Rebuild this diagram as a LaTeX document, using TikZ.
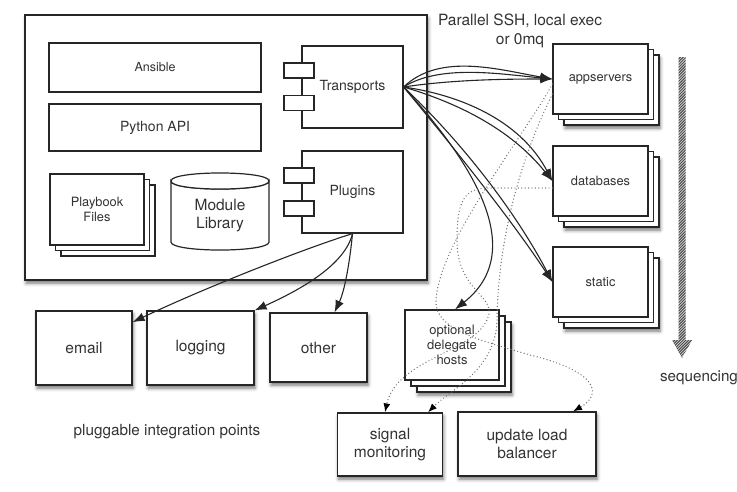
\documentclass[tikz,border=0pt]{standalone}
\usepackage{fontspec}
\setmainfont{TeX Gyre Heros}
\usetikzlibrary{arrows.meta, shadows.blur}
\begin{document}
\begin{tikzpicture}[x=1pt,y=-1pt,
  box/.style={draw=black!85, line width=1.2pt, fill=white, inner sep=0pt, align=center, text=black!80},
  shad/.style={blur shadow={shadow xshift=1pt, shadow yshift=-3pt, shadow blur radius=3.5pt, shadow opacity=55}},
  tabbox/.style={draw=black!85, line width=1.1pt, fill=white, minimum width=30pt, minimum height=15pt, inner sep=0pt},
  hostbox/.style={box, minimum width=95pt, minimum height=70pt, font=\fontsize{12.8}{15}\selectfont},
  botbox/.style={box, font=\fontsize{15.5}{18}\selectfont},
  conn/.style={draw=black!85, line width=1.1pt, -{Latex[length=12pt,width=9pt]}},
  dotted line/.style={draw=black!55, line width=1.4pt, line cap=round, dash pattern=on 0pt off 3.4pt, -{Latex[length=9pt,width=7pt,color=black]}},
  lab/.style={align=center, text=black!80, inner sep=0pt},
]
\useasboundingbox (0,0) rectangle (737,491);

% core box
\node[box, shad, minimum width=402pt, minimum height=265pt] (core) at (226,147.5) {};
\node[box, minimum width=212pt, minimum height=49pt, font=\fontsize{12.5}{15}\selectfont] (ansible) at (155,67.5) {Ansible};
\node[box, minimum width=212pt, minimum height=47pt, font=\fontsize{14}{17}\selectfont] (pyapi) at (155,127.5) {Python API};

% playbook stack
\node[box, minimum width=94pt, minimum height=71pt] (pb3) at (108,220.5) {};
\node[box, minimum width=94pt, minimum height=71pt] (pb2) at (102.5,215) {};
\node[box, minimum width=94pt, minimum height=71pt, font=\fontsize{12.8}{14.5}\selectfont] (pb) at (97,209.5) {Playbook\\Files};

% module library cylinder
\draw[draw=black!85, line width=1.2pt, fill=white]
  (171,181) -- (171,242) .. controls (171,252.7) and (269,252.7) .. (269,242) -- (269,181)
  .. controls (269,191.7) and (171,191.7) .. (171,181) -- cycle;
\draw[draw=black!85, line width=1.2pt, fill=white]
  (171,181) .. controls (171,170.3) and (269,170.3) .. (269,181)
  .. controls (269,191.7) and (171,191.7) .. (171,181) -- cycle;
\node[lab, font=\fontsize{15.5}{18}\selectfont] (modlib) at (220,216) {Module\\Library};

% transports and plugins
\node[box, minimum width=101pt, minimum height=82pt, font=\fontsize{14}{17}\selectfont] (trans) at (352.5,87) {Transports};
\node[tabbox] (ttab1) at (299,70.5) {};
\node[tabbox] (ttab2) at (299,103) {};
\node[box, minimum width=101pt, minimum height=82pt, font=\fontsize{14}{17}\selectfont] (plug) at (352.5,192) {\raisebox{-6pt}{Plugins}};
\node[tabbox] (ptab1) at (299,175.5) {};
\node[tabbox] (ptab2) at (299,208.5) {};

% label
\node[lab, font=\fontsize{15.5}{19}\selectfont] (par) at (520,31) {Parallel SSH, local exec\\or 0mq};

% host stacks
\node[hostbox, shad] (app3) at (611.5,90) {};
\node[hostbox] (app2) at (606,84.5) {};
\node[hostbox] (app) at (600.5,79) {appservers};
\node[hostbox, shad] (db3) at (611.5,192) {};
\node[hostbox] (db2) at (606,186.5) {};
\node[hostbox] (db) at (600.5,181) {databases};
\node[hostbox, shad] (st3) at (611.5,293) {};
\node[hostbox] (st2) at (606,287.5) {};
\node[hostbox] (st) at (600.5,282) {static};

% sequencing arrow
\begin{scope}
\clip (678.5,57) -- (685.5,57) -- (685.5,340) -- (692,340) -- (682,358) -- (672,340) -- (678.5,340) -- cycle;
\fill[black!15] (668,50) rectangle (696,365);
\foreach \k in {0,...,115} \draw[black!70, line width=1pt] (668,{50+2.8*\k}) -- (696,{22+2.8*\k});
\end{scope}
\node[lab, font=\fontsize{15.2}{18}\selectfont] (seq) at (699,378) {sequencing};

% bottom boxes
\node[botbox, shad, minimum width=96pt, minimum height=74pt] (email) at (84,348) {email};
\node[botbox, shad, minimum width=107pt, minimum height=74pt] (logging) at (200.5,348) {logging};
\node[botbox, shad, minimum width=97pt, minimum height=69pt] (other) at (318.5,347.5) {other};

\node[box, shad, minimum width=94pt, minimum height=70pt] (del3) at (464,357) {};
\node[box, minimum width=94pt, minimum height=70pt] (del2) at (458,351) {};
\node[box, minimum width=94pt, minimum height=70pt, font=\fontsize{13}{15}\selectfont] (del) at (452,345) {optional\\delegate\\hosts};

\node[botbox, shad, minimum width=105pt, minimum height=63pt] (sm) at (390,444.5) {signal\\monitoring};
\node[botbox, shad, minimum width=138pt, minimum height=64pt] (ulb) at (527,444) {update load\\balancer};
\node[lab, font=\fontsize{15.3}{18}\selectfont] (plugtxt) at (167,432) {pluggable integration points};

% transport connectors
\draw[conn] (trans.east) .. controls (440,52) and (500,70) .. (app.west);
\draw[conn] (trans.east) .. controls (440,64) and (500,74) .. (app.west);
\draw[conn] (trans.east) .. controls (450,80) and (500,79) .. (app.west);
\draw[conn] (trans.east) .. controls (460,95) and (520,120) .. (db.west);
\draw[conn] (trans.east) .. controls (455,102) and (510,128) .. (db.west);
\draw[conn] (trans.east) .. controls (470,150) and (520,220) .. (st.west);
\draw[conn] (trans.east) .. controls (460,155) and (515,225) .. (st.west);
\draw[conn] (trans.east) .. controls (470,160) and (530,250) .. ([xshift=3pt]del.north);

% plugin connectors
\draw[conn] (plug.south) .. controls (300,250) and (200,290) .. (email.28);
\draw[conn] (plug.south) .. controls (345,265) and (300,290) .. (logging.north east);
\draw[conn] (plug.south) .. controls (350,260) and (345,290) .. ([xshift=16pt]other.north);

% dotted connectors
\draw[dotted line] ([yshift=-5pt]app.west) .. controls (525,135) and (440,240) .. (436,300)
  .. controls (434,330) and (480,340) .. (530,355) .. controls (600,372) and (602,395) .. ([xshift=46pt]ulb.north);
\draw[dotted line] ([yshift=-15pt]app.west) .. controls (515,170) and (498,250) .. (497,320)
  .. controls (496,370) and (450,390) .. ([xshift=38pt]sm.north);
\draw[dotted line] ([yshift=-7pt]db.west) -- (488,188) .. controls (462,188) and (457,205) .. (457,240)
  .. controls (457,300) and (510,295) .. (480,330) .. controls (455,355) and (395,365) .. ([xshift=-5pt]sm.north);
\end{tikzpicture}
\end{document}
